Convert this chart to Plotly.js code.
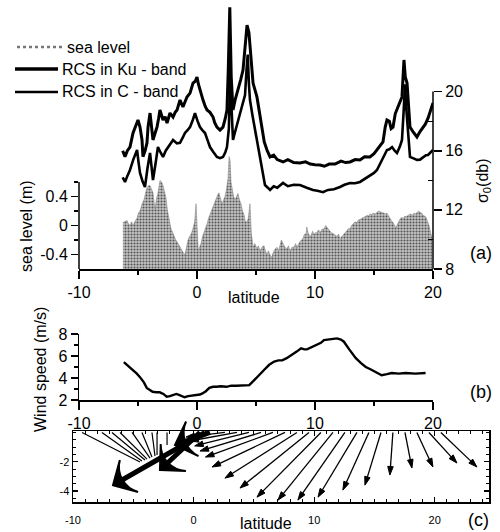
<!DOCTYPE html>
<html><head><meta charset="utf-8">
<script src="https://cdn.plot.ly/plotly-3.0.1.min.js"></script>
<style>html,body{margin:0;padding:0;background:#fff}#chart{width:500px;height:532px}</style>
</head><body><div id="chart"></div>
<script>
// ---------- data ----------
const seaLat = [-6.28,-6.1,-5.93,-5.8,-5.68,-5.55,-5.42,-5.25,-5.08,-4.95,
-4.83,-4.65,-4.5,-4.35,-4.24,-4.1,-3.98,-3.85,-3.73,-3.62,
-3.56,-3.42,-3.3,-3.14,-3.0,-2.88,-2.75,-2.63,-2.5,-2.35,
-2.2,-2.05,-1.95,-1.8,-1.6,-1.45,-1.27,-1.15,-1.02,-0.9,
-0.76,-0.62,-0.5,-0.35,-0.2,-0.08,0.02,0.1,0.22,0.34,
0.47,0.59,0.72,0.85,0.98,1.1,1.23,1.36,1.5,1.61,
1.75,1.86,2.0,2.12,2.25,2.37,2.5,2.63,2.72,2.8,
2.88,2.97,3.1,3.22,3.35,3.47,3.6,3.73,3.85,3.98,
4.1,4.24,4.35,4.42,4.49,4.6,4.75,4.9,5.08,5.2,
5.34,5.5,5.68,5.8,5.93,6.05,6.19,6.3,6.44,6.6,
6.78,6.9,7.03,7.15,7.29,7.45,7.63,7.75,7.88,8.05,
8.22,8.35,8.47,8.6,8.73,8.85,8.98,9.1,9.24,9.3,
9.41,9.55,9.66,9.8,9.92,10.05,10.17,10.3,10.42,10.6,
10.76,10.9,11.02,11.15,11.27,11.4,11.53,11.7,11.86,12.0,
12.12,12.3,12.46,12.6,12.71,12.85,12.97,13.1,13.22,13.4,
13.56,13.7,13.81,13.95,14.07,14.25,14.41,14.55,14.66,14.8,
14.92,15.1,15.25,15.4,15.51,15.7,15.85,16.0,16.1,16.25,
16.36,16.5,16.61,16.75,16.86,17.0,17.12,17.25,17.37,17.5,
17.63,17.75,17.88,18.0,18.14,18.25,18.39,18.5,18.64,18.8,
18.9,19.05,19.15,19.3,19.41,19.55,19.66,19.8,19.92];
const seaLevel = [0.04,0.06,0.07,0.02,0.0,0.05,0.0,0.06,0.1,0.18,
0.2,0.3,0.35,0.45,0.52,0.55,0.55,0.5,0.45,0.3,
0.23,0.38,0.45,0.62,0.6,0.55,0.45,0.38,0.2,0.05,
-0.05,-0.1,-0.15,-0.2,-0.25,-0.3,-0.35,-0.38,-0.4,-0.3,
-0.2,-0.15,-0.12,-0.05,0.05,0.3,-0.05,-0.35,-0.3,-0.25,
-0.15,-0.1,-0.05,0.02,0.1,0.15,0.2,0.25,0.32,0.38,
0.42,0.45,0.35,0.3,0.35,0.4,0.5,0.65,0.95,0.9,
0.6,0.5,0.4,0.35,0.4,0.44,0.35,0.3,0.2,0.15,
0.05,0.05,0.1,0.17,0.3,-0.1,-0.3,-0.25,-0.32,-0.28,
-0.35,-0.3,-0.28,-0.35,-0.4,-0.35,-0.42,-0.45,-0.38,-0.33,
-0.3,-0.35,-0.28,-0.2,-0.25,-0.3,-0.32,-0.28,-0.35,-0.3,
-0.3,-0.25,-0.3,-0.25,-0.22,-0.2,-0.18,-0.12,-0.12,-0.02,
-0.1,-0.15,-0.14,-0.08,-0.12,-0.1,-0.1,-0.06,-0.1,-0.05,
-0.05,0.0,-0.03,-0.05,-0.08,-0.1,-0.11,-0.13,-0.15,-0.12,
-0.18,-0.15,-0.12,-0.1,-0.07,-0.04,-0.05,0.0,0.02,0.05,
0.04,0.08,0.08,0.1,0.11,0.12,0.14,0.13,0.16,0.15,
0.17,0.16,0.18,0.2,0.19,0.18,0.17,0.16,0.17,0.12,
0.1,0.06,0.04,0.0,-0.03,0.02,0.05,0.1,0.11,0.1,
0.13,0.12,0.14,0.15,0.16,0.14,0.17,0.16,0.18,0.2,
0.18,0.17,0.14,0.13,0.11,0.05,0.0,-0.1,-0.17];

const kuLat = [-6.3,-6.1,-5.9,-5.68,-5.42,-5.2,-5.0,-4.83,-4.66,-4.58,
-4.4,-4.24,-4.15,-3.98,-3.85,-3.73,-3.55,-3.39,-3.25,-3.14,
-2.88,-2.7,-2.54,-2.29,-2.03,-1.85,-1.69,-1.44,-1.19,-1.0,
-0.85,-0.59,-0.34,-0.15,0.0,0.12,0.25,0.51,0.7,0.85,
1.1,1.36,1.5,1.69,1.95,2.2,2.4,2.54,2.65,2.78,
2.9,3.05,3.25,3.47,3.7,3.9,4.1,4.24,4.4,4.49,
4.62,4.75,5.08,5.3,5.5,5.7,5.93,6.19,6.5,6.8,
7.29,7.7,8.2,8.73,9.2,9.6,10.0,10.42,10.8,11.2,
11.7,12.2,12.6,12.97,13.4,13.81,14.2,14.66,15.0,15.25,
15.5,15.76,15.95,16.1,16.3,16.45,16.61,16.8,17.03,17.2,
17.37,17.54,17.65,17.8,17.95,18.05,18.3,18.64,18.9,19.15,
19.35,19.58,19.8,20.0];
const kuRcs = [16.0,15.6,16.0,16.25,17.2,17.6,18.08,17.6,16.73,15.6,
16.0,16.53,17.6,18.55,17.5,16.73,17.2,17.6,18.2,18.76,
18.08,18.3,17.88,18.55,18.28,18.6,18.76,19.43,18.96,19.3,
19.64,19.9,20.58,20.7,20.99,20.5,20.1,19.43,19.0,18.76,
18.6,18.28,17.9,17.6,17.4,17.6,18.2,18.76,21.5,25.7,
21.0,18.76,19.5,20.1,20.8,21.46,23.0,24.5,24.0,23.0,
21.5,20.58,19.64,18.5,17.4,16.6,16.05,15.58,15.7,15.4,
15.24,15.4,15.2,15.17,15.25,15.1,15.05,15.04,14.95,15.1,
15.1,15.3,15.2,15.24,15.4,15.38,15.6,15.58,15.8,16.05,
16.3,16.6,17.6,18.08,18.0,17.5,17.6,18.5,18.96,19.3,
19.64,22.14,21.0,20.58,19.0,17.6,17.3,16.93,17.3,17.6,
17.8,18.2,18.7,19.23];

const cLat = [-6.3,-6.1,-5.9,-5.68,-5.4,-5.08,-4.95,-4.83,-4.6,-4.41,
-4.2,-3.98,-3.85,-3.73,-3.5,-3.31,-3.1,-2.88,-2.65,-2.46,
-2.25,-2.03,-1.7,-1.44,-1.2,-1.02,-0.8,-0.59,-0.35,-0.17,
0.05,0.25,0.45,0.68,0.9,1.1,1.4,1.69,1.95,2.2,
2.4,2.54,2.7,2.82,2.92,3.05,3.2,3.39,3.55,3.73,
3.9,4.07,4.2,4.3,4.4,4.49,4.7,4.92,5.1,5.34,
5.55,5.76,6.0,6.19,6.5,6.8,7.29,7.7,8.2,8.73,
9.3,9.83,10.2,10.68,11.1,11.6,12.12,12.5,12.97,13.4,
13.81,14.2,14.66,15.0,15.25,15.5,15.8,16.1,16.3,16.53,
16.75,16.95,17.2,17.37,17.5,17.63,17.72,17.8,17.93,18.05,
18.3,18.64,18.9,19.15,19.4,19.58,19.8,20.0];
const cRcs = [14.2,13.89,14.3,14.7,15.4,16.05,15.2,14.5,13.9,13.55,
14.8,15.85,14.9,14.02,15.2,16.25,15.9,15.58,16.0,16.25,
16.5,16.73,16.5,16.53,16.9,17.2,17.4,17.6,18.1,18.55,
18.0,17.6,17.4,17.2,16.7,16.25,15.9,15.58,15.5,15.58,
15.9,16.25,17.5,21.5,19.0,16.73,17.2,17.74,18.3,18.76,
19.3,19.77,21.5,22.5,20.5,19.43,18.4,17.4,16.4,15.38,
14.5,13.68,13.5,13.35,13.6,13.5,13.82,13.6,13.7,13.68,
13.5,13.35,13.3,13.2,13.35,13.4,13.55,13.7,13.82,13.8,
13.89,14.1,14.36,14.5,14.7,15.1,15.6,16.05,16.1,16.25,
16.0,15.85,16.3,16.73,18.5,20.5,19.0,18.08,16.6,15.58,
15.5,15.38,15.4,15.58,15.7,15.71,15.9,16.05];

const windLat = [-6.2,-5.8,-5.44,-5.1,-4.85,-4.5,-4.26,-4.0,-3.76,-3.45,
-3.16,-2.85,-2.57,-2.3,-2.07,-1.75,-1.48,-1.25,-1.05,-0.75,
-0.46,-0.2,0.04,0.25,0.46,0.75,1.05,1.35,1.65,2.0,
2.49,2.9,3.33,3.75,4.18,4.43,4.85,5.27,5.7,6.12,
6.54,6.9,7.22,7.6,8.06,8.45,8.82,9.1,9.32,9.75,
10.17,10.5,10.76,11.3,11.86,12.2,12.45,12.9,13.46,13.9,
14.3,14.7,15.15,15.65,16.1,16.5,17.1,17.68,18.5,19.37];
const windSpeed = [5.45,5.1,4.7,4.4,4.1,3.6,3.1,2.9,2.75,2.7,
2.7,2.55,2.3,2.35,2.45,2.55,2.45,2.35,2.25,2.35,
2.4,2.45,2.45,2.5,2.6,2.8,3.1,3.2,3.2,3.25,
3.2,3.3,3.3,3.3,3.3,3.35,3.8,4.3,4.75,5.2,
5.5,5.6,5.6,5.8,6.1,6.4,6.7,6.6,6.6,6.8,
7.0,7.2,7.45,7.55,7.6,7.5,7.3,6.6,5.8,5.35,
5.0,4.8,4.55,4.25,4.35,4.45,4.4,4.45,4.4,4.45];

// wind vectors (tail latitude on the zero line, components u, v)
const vecLat = [2.60,3.60,4.59,5.59,6.58,7.58,8.57,9.57,10.56,11.56,12.55,13.55,14.54,15.54,16.53,17.53,18.52,19.52,20.51];
const vecU = [-3.23,-3.9,-4.5,-5.06,-5.6,-6.05,-5.97,-5.72,-5.3,-4.56,-3.9,-3.23,-2.16,-1.33,-0.25,0.58,1.33,2.32,2.99];
const vecV = [-0.31,-0.58,-0.92,-1.27,-1.68,-2.36,-3.12,-3.8,-4.42,-4.62,-4.62,-4.42,-3.94,-3.6,-2.91,-2.43,-2.36,-2.09,-2.36];
const convLat = [-9.25,-7.6,-6.77,-6.1,-5.1,-4.28,-3.45,-3.03,-2.2];
const convU = [4.81,3.32,2.74,2.24,1.49,0.83,0.25,0.0,0.0];
const convV = [-2.02,-1.95,-1.88,-1.82,-1.75,-1.68,-1.61,-1.54,-0.86];
const bigLat = [0.95,0.53,1.36];
const bigU = [-7.63,-3.32,-2.9];
const bigV = [-3.6,-2.57,-0.86];

// ---------- helpers for layout placement ----------
const W = 500, H = 532;
const fx = p => p / W, fy = p => 1 - p / H;
const FONT = 'Liberation Sans, Arial, Helvetica, sans-serif';
const BLK = '#000';

// build vector segments (tail on zero line -> head) for the stick plot
function vectors(lat, u, v, headSize) {
  const xs = [], ys = [], sz = [];
  lat.forEach((t, i) => {
    xs.push(t, t + u[i], null);
    ys.push(0, v[i], null);
    sz.push(0, headSize, 0);
  });
  return {xs, ys, sz};
}
const vThin = vectors(vecLat, vecU, vecV, 9);
const vConv = vectors(convLat, convU, convV, 0);
const vBig = vectors(bigLat, bigU, bigV, 26);

const traces = [
  {x: seaLat, y: seaLat.map(() => -0.6), xaxis: 'x', yaxis: 'y', mode: 'lines',
   line: {width: 0, color: 'rgba(0,0,0,0)'}, hoverinfo: 'skip', showlegend: false},
  {x: seaLat, y: seaLevel, xaxis: 'x', yaxis: 'y', mode: 'lines', fill: 'tonexty',
   fillcolor: '#b0b0b0',
   fillpattern: {shape: '.', fgcolor: '#555', bgcolor: '#c4c4c4', size: 3, solidity: 0.4},
   line: {color: '#8a8a8a', width: 0.6}, name: 'sea level', showlegend: false},
  {x: kuLat, y: kuRcs, xaxis: 'x', yaxis: 'y2', mode: 'lines', name: 'RCS in Ku - band',
   line: {color: BLK, width: 3}, showlegend: false},
  {x: cLat, y: cRcs, xaxis: 'x', yaxis: 'y2', mode: 'lines', name: 'RCS in C - band',
   line: {color: BLK, width: 2.6}, showlegend: false},
  {x: windLat, y: windSpeed, xaxis: 'x2', yaxis: 'y3', mode: 'lines', name: 'wind speed',
   line: {color: BLK, width: 2.4}, showlegend: false},
  {x: vConv.xs, y: vConv.ys, xaxis: 'x3', yaxis: 'y4', mode: 'lines', connectgaps: false,
   line: {color: BLK, width: 1.2}, hoverinfo: 'skip', showlegend: false, cliponaxis: false},
  {x: vThin.xs, y: vThin.ys, xaxis: 'x3', yaxis: 'y4', mode: 'lines+markers', connectgaps: false,
   line: {color: BLK, width: 1.3}, opacity: 1,
   marker: {symbol: 'arrow', angleref: 'previous', size: vThin.sz, color: BLK, opacity: 1,
            line: {width: 1, color: BLK}},
   hoverinfo: 'skip', showlegend: false, cliponaxis: false},
  {x: vBig.xs, y: vBig.ys, xaxis: 'x3', yaxis: 'y4', mode: 'lines+markers', connectgaps: false,
   line: {color: BLK, width: 5}, opacity: 1,
   marker: {symbol: 'arrow-wide', angleref: 'previous', size: vBig.sz, color: BLK, opacity: 1,
            line: {width: 2, color: BLK}},
   hoverinfo: 'skip', showlegend: false, cliponaxis: false}
];

const tickFont = {family: FONT, size: 16, color: BLK};
const xCommon = {
  range: [-10, 20], showline: true, linecolor: BLK, linewidth: 1.5,
  ticks: 'outside', ticklen: 8, tickwidth: 1.5, tickcolor: BLK,
  tickvals: [-10, 0, 10, 20], ticktext: ['-10', '0', '10', '20'],
  minor: {tickvals: [-5, 5, 15], ticks: 'outside', ticklen: 4, tickwidth: 1.2, tickcolor: BLK},
  showgrid: false, zeroline: false, tickfont: tickFont
};

const annotations = [];
function txt(text, x, y, size, opts) {
  annotations.push(Object.assign({text: text, x: fx(x), y: fy(y), xref: 'paper', yref: 'paper',
    showarrow: false, font: {family: FONT, size: size, color: BLK}, xanchor: 'center', yanchor: 'middle'}, opts || {}));
}
// legend text
txt('sea level', 65, 47, 16, {xanchor: 'left'});
txt('RCS in Ku - band', 60, 69, 16, {xanchor: 'left'});
txt('RCS in C - band', 60, 92, 16, {xanchor: 'left'});
// axis titles and panel labels
txt('sea level (m)', 26, 226, 16, {textangle: -90});
txt('σ<sub>0</sub>(db)', 483, 181, 16, {textangle: -90});
txt('latitude', 254, 297, 16);
txt('(a)', 481, 253, 18);
txt('Wind speed (m/s)', 40, 370, 16, {textangle: -90});
txt('(b)', 481, 392, 18);
txt('latitude', 266, 523, 16);
txt('(c)', 478, 520, 18);

const shapes = [
  // legend samples
  {type: 'line', xref: 'paper', yref: 'paper', x0: fx(17), x1: fx(62), y0: fy(47), y1: fy(47),
   line: {color: '#777', width: 2.5, dash: 'dot'}},
  {type: 'line', xref: 'paper', yref: 'paper', x0: fx(15), x1: fx(58), y0: fy(69), y1: fy(69),
   line: {color: BLK, width: 3.5}},
  {type: 'line', xref: 'paper', yref: 'paper', x0: fx(15), x1: fx(58), y0: fy(92), y1: fy(92),
   line: {color: BLK, width: 2.5}},
  // partial axis lines of panel (a)
  {type: 'line', xref: 'x domain', yref: 'y', x0: 0, x1: 0, y0: -0.6, y1: 0.6, line: {color: BLK, width: 1.5}},
  {type: 'line', xref: 'x domain', yref: 'y2', x0: 1, x1: 1, y0: 8, y1: 20, line: {color: BLK, width: 1.5}}
];

const layout = {
  width: W, height: H, margin: {l: 0, r: 0, t: 0, b: 0},
  paper_bgcolor: '#fff', plot_bgcolor: 'rgba(0,0,0,0)', showlegend: false,
  font: {family: FONT, color: BLK},
  xaxis: Object.assign({}, xCommon, {domain: [fx(79), fx(433)], anchor: 'y'}),
  yaxis: {domain: [fy(269), fy(5)], range: [-0.6, 3.04], anchor: 'x', showline: false,
    ticks: 'outside', ticklen: 7, tickwidth: 1.5, tickcolor: BLK,
    tickvals: [-0.4, 0, 0.4], ticktext: ['-0.4', '0', '0.4'],
    minor: {tickvals: [-0.2, 0.2, 0.6], ticks: 'outside', ticklen: 4, tickwidth: 1.2, tickcolor: BLK},
    showgrid: false, zeroline: false, tickfont: tickFont},
  yaxis2: {overlaying: 'y', side: 'right', anchor: 'x', range: [8, 25.86], showline: false,
    ticks: 'outside', ticklen: 8, tickwidth: 1.5, tickcolor: BLK,
    tickvals: [8, 12, 16, 20], ticktext: ['8', '12', '16', '20'],
    minor: {tickvals: [10, 14, 18], ticks: 'inside', ticklen: 5, tickwidth: 1.2, tickcolor: BLK},
    showgrid: false, zeroline: false, tickfont: tickFont},
  xaxis2: Object.assign({}, xCommon, {domain: [fx(79), fx(433)], anchor: 'y3'}),
  yaxis3: {domain: [fy(400), fy(334)], range: [2, 8], anchor: 'x2', showline: true, linecolor: BLK, linewidth: 1.5,
    ticks: 'outside', ticklen: 7, tickwidth: 1.5, tickcolor: BLK, tickvals: [2, 4, 6, 8],
    minor: {dtick: 1, ticks: 'outside', ticklen: 4, tickwidth: 1.2, tickcolor: BLK},
    showgrid: false, zeroline: false, tickfont: tickFont},
  xaxis3: {domain: [fx(73), fx(489)], range: [-10, 24.5], anchor: 'y4', showline: true, mirror: 'ticks',
    linecolor: BLK, linewidth: 1.5, ticks: 'inside', ticklen: 5, tickwidth: 1.2, tickcolor: BLK,
    tickvals: [-10, 0, 10, 20], ticktext: ['-10', '0', '10', '20'], ticklabelstandoff: 7,
    minor: {dtick: 1, tick0: 0, ticks: 'inside', ticklen: 3, tickwidth: 1, tickcolor: BLK},
    showgrid: false, zeroline: false, tickfont: {family: FONT, size: 11, color: BLK}},
  yaxis4: {domain: [fy(502), fy(431)], range: [-4.75, 0.1], anchor: 'x3', showline: true, mirror: 'ticks',
    linecolor: BLK, linewidth: 1.5, ticks: 'inside', ticklen: 5, tickwidth: 1.2, tickcolor: BLK,
    tickvals: [-2, -4], ticktext: ['-2', '-4'],
    minor: {dtick: 0.5, ticks: 'inside', ticklen: 3, tickwidth: 1, tickcolor: BLK},
    showgrid: false, zeroline: false, tickfont: {family: FONT, size: 11, color: BLK}},
  shapes: shapes,
  annotations: annotations
};

Plotly.newPlot('chart', traces, layout, {staticPlot: true, displayModeBar: false});
</script>
</body></html>
